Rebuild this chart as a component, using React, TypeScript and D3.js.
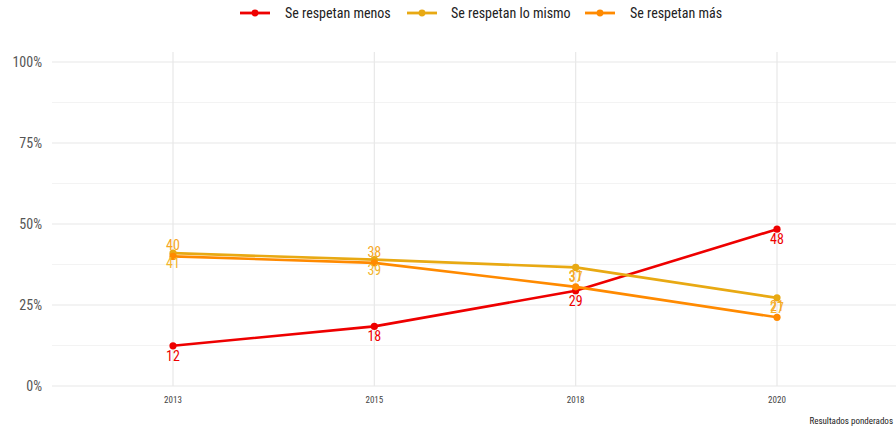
import React from "react";
import * as d3 from "d3";

const years = ["2013", "2015", "2018", "2020"];
const menos = [12.4, 18.4, 29.4, 48.4];
const mismo = [41, 39, 36.6, 27.2];
const mas = [40, 38, 30.6, 21.2];
const yTicks = [0, 25, 50, 75, 100];
const yMinor = [12.5, 37.5, 62.5, 87.5];

const seriesList = [
  { name: "Se respetan menos", values: menos, color: "#EE0000", labelColor: "#EE0000", dy: 15 },
  { name: "Se respetan lo mismo", values: mismo, color: "#E8A913", labelColor: "#F2B52E", dy: 15 },
  { name: "Se respetan más", values: mas, color: "#FF8A00", labelColor: "#F6A623", dy: -6 },
];

const W = 896, H = 431;
const FONT = "'Roboto Condensed', 'Liberation Sans Narrow', Roboto, sans-serif";

export default function App() {
  const x = d3.scalePoint<string>().domain(years).range([173, 777]);
  const y = d3.scaleLinear().domain([0, 100]).range([386, 62]);
  const line = d3.line<number>().x((_, i) => x(years[i])!).y((d) => y(d));

  const legendItems = [
    { x0: 240, tx: 285 },
    { x0: 407, tx: 451 },
    { x0: 585, tx: 630 },
  ];

  return (
    <svg width={W} height={H} style={{ position: "absolute", left: 0, top: 0, background: "#fff" }}>
      <g>
        {yMinor.map((t) => (
          <line key={"m" + t} x1={52} x2={896} y1={y(t)} y2={y(t)} stroke="#f3f3f3" strokeWidth={1} />
        ))}
        {yTicks.map((t) => (
          <line key={"g" + t} x1={52} x2={896} y1={y(t)} y2={y(t)} stroke="#e8e8e8" strokeWidth={1.2} />
        ))}
        {years.map((yr) => (
          <line key={"v" + yr} x1={x(yr)} x2={x(yr)} y1={52} y2={386} stroke="#e8e8e8" strokeWidth={1.2} />
        ))}
        {yTicks.map((t) => (
          <text key={"t" + t} x={42} y={y(t) + 5} textAnchor="end" fontFamily={FONT} fontSize={14} fill="#555">
            {t}%
          </text>
        ))}
        {years.map((yr) => (
          <text key={"x" + yr} x={x(yr)} y={403} textAnchor="middle" fontFamily={FONT} fontSize={9} fill="#444">
            {yr}
          </text>
        ))}
        <text x={893} y={424} textAnchor="end" fontFamily={FONT} fontSize={9} fill="#222">
          Resultados ponderados
        </text>
      </g>
      {seriesList.map((s) => (
        <g key={s.name}>
          <path d={line(s.values)!} fill="none" stroke={s.color} strokeWidth={2.6} />
          {s.values.map((v, i) => (
            <circle key={i} cx={x(years[i])} cy={y(v)} r={3.6} fill={s.color} />
          ))}
        </g>
      ))}
      {seriesList.map((s) => (
        <g key={s.name + "l"}>
          {s.values.map((v, i) => (
            <text key={i} x={x(years[i])} y={y(v) + s.dy} textAnchor="middle" fontFamily={FONT} fontSize={14} fill={s.labelColor}>
              {Math.round(v)}
            </text>
          ))}
        </g>
      ))}
      {seriesList.map((s, i) => (
        <g key={s.name + "leg"}>
          <line x1={legendItems[i].x0} x2={legendItems[i].x0 + 30} y1={13} y2={13} stroke={s.color} strokeWidth={2.8} />
          <circle cx={legendItems[i].x0 + 15} cy={13} r={3.4} fill={s.color} />
          <text x={legendItems[i].tx} y={18} fontFamily={FONT} fontSize={14} fill="#222">
            {s.name}
          </text>
        </g>
      ))}
    </svg>
  );
}
